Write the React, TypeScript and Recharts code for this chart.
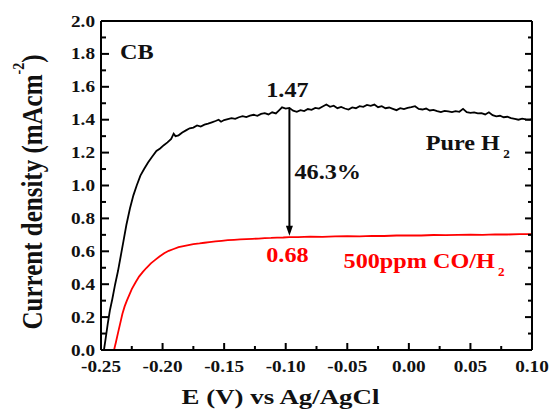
import React from 'react';
import { LineChart, Line, XAxis, YAxis, ReferenceDot, ReferenceLine } from 'recharts';

// E (V vs Ag/AgCl), current density (mA cm^-2)
const pureH2: [number, number][] = [
  [-0.2476, 0.0], [-0.2462, 0.07], [-0.2445, 0.16], [-0.2428, 0.24], [-0.2408, 0.31],
  [-0.2385, 0.4], [-0.2362, 0.48], [-0.234, 0.57], [-0.2318, 0.66], [-0.2294, 0.76],
  [-0.2265, 0.86], [-0.2237, 0.94], [-0.221, 1.0], [-0.218, 1.06], [-0.215, 1.1],
  [-0.2118, 1.14], [-0.2085, 1.175], [-0.205, 1.21], [-0.202, 1.225], [-0.199, 1.245],
  [-0.196, 1.262], [-0.193, 1.283], [-0.191, 1.315], [-0.1895, 1.3], [-0.187, 1.305],
  [-0.184, 1.322], [-0.181, 1.335], [-0.178, 1.348], [-0.175, 1.352], [-0.172, 1.365],
  [-0.169, 1.358], [-0.166, 1.37], [-0.163, 1.376], [-0.16, 1.384], [-0.157, 1.392],
  [-0.1545, 1.4], [-0.1525, 1.388], [-0.15, 1.398], [-0.147, 1.404], [-0.144, 1.41],
  [-0.141, 1.405], [-0.138, 1.415], [-0.135, 1.422], [-0.132, 1.416], [-0.129, 1.425],
  [-0.126, 1.43], [-0.123, 1.424], [-0.12, 1.435], [-0.117, 1.44], [-0.114, 1.432],
  [-0.111, 1.445], [-0.108, 1.438], [-0.105, 1.46], [-0.103, 1.475], [-0.1, 1.468],
  [-0.097, 1.472], [-0.094, 1.455], [-0.091, 1.448], [-0.088, 1.458], [-0.085, 1.452],
  [-0.082, 1.465], [-0.079, 1.46], [-0.076, 1.472], [-0.073, 1.468], [-0.07, 1.48],
  [-0.067, 1.492], [-0.064, 1.478], [-0.061, 1.485], [-0.058, 1.47], [-0.055, 1.478],
  [-0.052, 1.468], [-0.049, 1.462], [-0.046, 1.475], [-0.043, 1.47], [-0.04, 1.482],
  [-0.037, 1.478], [-0.034, 1.49], [-0.031, 1.484], [-0.028, 1.492], [-0.025, 1.476],
  [-0.022, 1.482], [-0.019, 1.47], [-0.016, 1.474], [-0.013, 1.466], [-0.01, 1.458],
  [-0.007, 1.47], [-0.004, 1.464], [-0.001, 1.472], [0.002, 1.476], [0.005, 1.482],
  [0.008, 1.465], [0.011, 1.462], [0.014, 1.468], [0.017, 1.456], [0.02, 1.46],
  [0.023, 1.452], [0.026, 1.446], [0.029, 1.454], [0.032, 1.45], [0.035, 1.446],
  [0.038, 1.452], [0.041, 1.448], [0.044, 1.466], [0.047, 1.446], [0.05, 1.442],
  [0.053, 1.445], [0.056, 1.438], [0.059, 1.44], [0.062, 1.432], [0.065, 1.445],
  [0.068, 1.428], [0.071, 1.42], [0.074, 1.424], [0.077, 1.415], [0.08, 1.418],
  [0.083, 1.41], [0.086, 1.405], [0.089, 1.4], [0.092, 1.406], [0.095, 1.402],
  [0.098, 1.4], [0.1, 1.404],
];

const coH2: [number, number][] = [
  [-0.2394, 0.0], [-0.2378, 0.05], [-0.236, 0.11], [-0.2343, 0.165], [-0.2326, 0.22],
  [-0.2308, 0.265], [-0.229, 0.3], [-0.227, 0.335], [-0.225, 0.37], [-0.222, 0.41],
  [-0.2191, 0.446], [-0.216, 0.475], [-0.213, 0.5], [-0.2095, 0.527], [-0.206, 0.548],
  [-0.2025, 0.568], [-0.1987, 0.588], [-0.195, 0.603], [-0.191, 0.614], [-0.187, 0.625],
  [-0.183, 0.632], [-0.179, 0.638], [-0.175, 0.644], [-0.17, 0.648], [-0.166, 0.652],
  [-0.162, 0.656], [-0.157, 0.66], [-0.152, 0.664], [-0.147, 0.668], [-0.142, 0.67],
  [-0.137, 0.672], [-0.132, 0.674], [-0.127, 0.676], [-0.122, 0.677], [-0.117, 0.68],
  [-0.112, 0.681], [-0.107, 0.683], [-0.102, 0.684], [-0.097, 0.686], [-0.09, 0.686],
  [-0.08, 0.689], [-0.07, 0.688], [-0.06, 0.691], [-0.05, 0.692], [-0.04, 0.691],
  [-0.03, 0.694], [-0.02, 0.693], [-0.01, 0.696], [0.0, 0.697], [0.01, 0.696],
  [0.02, 0.699], [0.03, 0.698], [0.04, 0.7], [0.05, 0.701], [0.06, 0.7],
  [0.07, 0.703], [0.08, 0.702], [0.09, 0.704], [0.1, 0.704],
];

const xTicks = [-0.25, -0.225, -0.2, -0.175, -0.15, -0.125, -0.1, -0.075, -0.05, -0.025, 0, 0.025, 0.05, 0.075, 0.1];
const yTicks = [0, 0.1, 0.2, 0.3, 0.4, 0.5, 0.6, 0.7, 0.8, 0.9, 1.0, 1.1, 1.2, 1.3, 1.4, 1.5, 1.6, 1.7, 1.8, 1.9, 2.0];

const arrowE = -0.097;
const arrowTop = 1.47;
const arrowTip = 0.695;

const pureH2Data = pureH2.map(([e, j]) => ({ e, j }));
const coH2Data = coH2.map(([e, j]) => ({ e, j }));

const FONT = "'Liberation Serif','Times New Roman',serif";
const INK = '#111';
const RED = '#ff0000';

const isMajorX = (v: number) => Math.abs(Math.round(v * 1000)) % 50 === 0;
const isMajorY = (v: number) => Math.round(v * 10) % 2 === 0;

function STxt({ x, y, sx = 1, size, anchor = 'start', fill = INK, rotate = 0, children }: any) {
  const tr = `translate(${x},${y}) scale(${sx},1)` + (rotate ? ` rotate(${rotate})` : '');
  return (
    <g transform={tr}>
      <text x={0} y={0} textAnchor={anchor} fontSize={size} fontFamily={FONT} fontWeight="bold" fill={fill}>
        {children}
      </text>
    </g>
  );
}

const BottomTick = (p: any) => {
  const { x, y, payload } = p;
  const v = payload.value;
  const major = isMajorX(v);
  return (
    <g>
      <line x1={x} x2={x} y1={y} y2={y - (major ? 7 : 4)} stroke="#000" strokeWidth={2} />
      {major && <STxt x={x} y={y + 22} sx={1.2} size={16} anchor="middle">{v.toFixed(2)}</STxt>}
    </g>
  );
};
const TopTick = (p: any) => {
  const { x, y, payload } = p;
  const major = isMajorX(payload.value);
  return <line x1={x} x2={x} y1={y} y2={y + (major ? 7 : 4)} stroke="#000" strokeWidth={2} />;
};
const LeftTick = (p: any) => {
  const { x, y, payload } = p;
  const v = payload.value;
  const major = isMajorY(v);
  return (
    <g>
      <line x1={x} x2={x + (major ? 8 : 5)} y1={y} y2={y} stroke="#000" strokeWidth={2} />
      {major && <STxt x={x - 6} y={y + 5.5} sx={1.2} size={16} anchor="end">{v.toFixed(1)}</STxt>}
    </g>
  );
};
const RightTick = (p: any) => {
  const { x, y, payload } = p;
  const major = isMajorY(payload.value);
  return <line x1={x} x2={x - (major ? 7 : 4)} y1={y} y2={y} stroke="#000" strokeWidth={2} />;
};

const textDot = (content: React.ReactNode, anchor: string, fill: string) => (p: any) => (
  <STxt x={p.cx} y={p.cy} sx={1.1} size={22} anchor={anchor} fill={fill}>{content}</STxt>
);

const ArrowShape = (p: any) => {
  const { x1, y1, x2, y2 } = p;
  return (
    <g>
      <line x1={x1} y1={y1} x2={x2} y2={y2 - 8} stroke="#000" strokeWidth={2} />
      <polygon points={`${x2 - 3.5},${y2 - 10} ${x2 + 3.5},${y2 - 10} ${x2},${y2}`} fill="#000" />
    </g>
  );
};

const XTitle = () => (
  <STxt x={280.5} y={404} sx={1.28} size={21} anchor="middle">E (V) vs Ag/AgCl</STxt>
);
const YTitle = () => (
  <STxt x={42} y={192} sx={1.2} size={25} anchor="middle" rotate={-90}>
    Current density (mAcm
    <tspan fontSize={14} dy={-15}>-2</tspan>
    <tspan dy={15}>)</tspan>
  </STxt>
);

export default function App() {
  return (
    <div style={{ position: 'absolute', left: 0, top: 0, background: '#fff' }}>
      <LineChart width={550} height={411} margin={{ top: 19, right: 16, bottom: 0, left: 0 }}>
        <XAxis
          xAxisId={0}
          dataKey="e"
          type="number"
          domain={[-0.25, 0.1]}
          ticks={xTicks}
          interval={0}
          allowDataOverflow
          height={61}
          tickLine={false}
          tickSize={0}
          tickMargin={0}
          tick={<BottomTick />}
          axisLine={{ stroke: '#000', strokeWidth: 2 }}
          label={{ content: <XTitle /> }}
        />
        <XAxis
          xAxisId="top"
          orientation="top"
          type="number"
          domain={[-0.25, 0.1]}
          ticks={xTicks}
          interval={0}
          allowDataOverflow
          height={2}
          tickLine={false}
          tickSize={0}
          tickMargin={0}
          tick={<TopTick />}
          axisLine={{ stroke: '#000', strokeWidth: 2 }}
        />
        <YAxis
          yAxisId={0}
          type="number"
          domain={[0, 2]}
          ticks={yTicks}
          interval={0}
          allowDataOverflow
          width={101}
          tickLine={false}
          tickSize={0}
          tickMargin={0}
          tick={<LeftTick />}
          axisLine={{ stroke: '#000', strokeWidth: 2 }}
          label={{ content: <YTitle /> }}
        />
        <YAxis
          yAxisId="right"
          orientation="right"
          type="number"
          domain={[0, 2]}
          ticks={yTicks}
          interval={0}
          allowDataOverflow
          width={2}
          tickLine={false}
          tickSize={0}
          tickMargin={0}
          tick={<RightTick />}
          axisLine={{ stroke: '#000', strokeWidth: 2 }}
        />
        <Line data={pureH2Data} dataKey="j" stroke="#000" strokeWidth={1.8} dot={false} isAnimationActive={false} />
        <Line data={coH2Data} dataKey="j" stroke={RED} strokeWidth={1.8} dot={false} isAnimationActive={false} />
        <ReferenceLine
          segment={[{ x: arrowE, y: arrowTop }, { x: arrowE, y: arrowTip }]}
          shape={<ArrowShape />}
        />
        <ReferenceDot x={-0.2345} y={1.769} r={0} shape={textDot('CB', 'start', INK)} />
        <ReferenceDot x={-0.0986} y={1.54} r={0} shape={textDot('1.47', 'middle', INK)} />
        <ReferenceDot x={-0.0929} y={1.04} r={0} shape={textDot('46.3%', 'start', INK)} />
        <ReferenceDot x={-0.0986} y={0.535} r={0} shape={textDot('0.68', 'middle', RED)} />
        <ReferenceDot
          x={0.0137}
          y={1.216}
          r={0}
          shape={textDot(<>Pure H<tspan fontSize={12} dy={8} dx={3}>2</tspan></>, 'start', INK)}
        />
        <ReferenceDot
          x={-0.053}
          y={0.4985}
          r={0}
          shape={textDot(<>500ppm CO/H<tspan fontSize={12} dy={8} dx={3}>2</tspan></>, 'start', RED)}
        />
      </LineChart>
    </div>
  );
}
